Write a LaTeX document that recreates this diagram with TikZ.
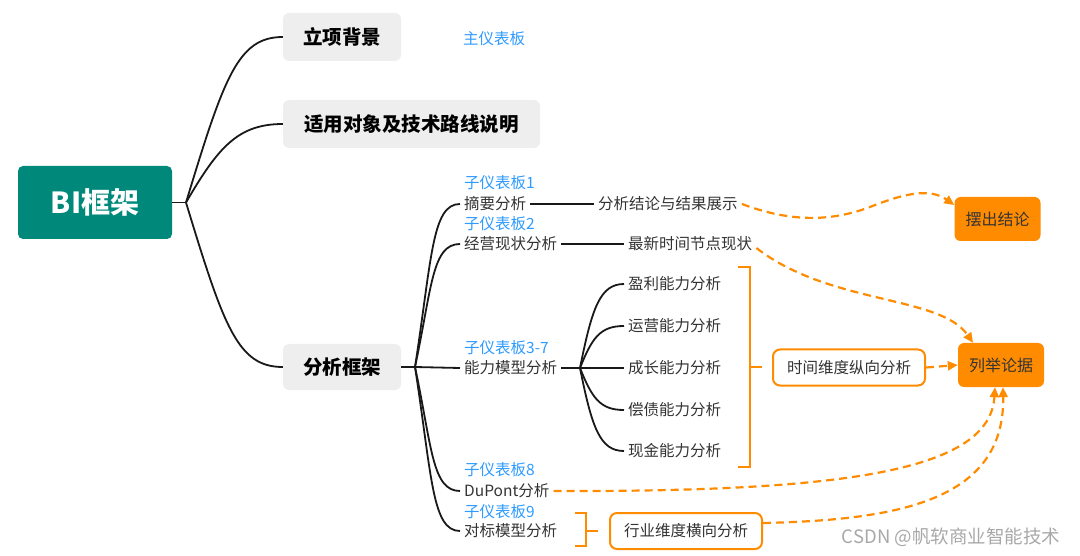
\documentclass[tikz,border=0pt]{standalone}
\usepackage{fontspec}
\setmainfont{Noto Sans CJK SC}
\usetikzlibrary{arrows.meta}
\definecolor{bigreen}{HTML}{00897B}
\definecolor{boxgray}{HTML}{EEEEEE}
\definecolor{tagblue}{HTML}{2E9BFF}
\definecolor{hintorange}{HTML}{FF8C00}
\definecolor{inkgray}{HTML}{333333}
\definecolor{markgray}{HTML}{A8A8A8}
\begin{document}
\begin{tikzpicture}[x=1pt,y=-1pt,
    root/.style={fill=bigreen,rounded corners=5pt,text=white,font=\fontsize{29}{32}\selectfont\bfseries,minimum width=154pt,minimum height=73pt},
    topic/.style={fill=boxgray,rounded corners=6pt,text=black,font=\fontsize{19.5}{22}\selectfont\bfseries,minimum height=48pt,inner xsep=20pt},
    item/.style={text=inkgray,font=\fontsize{15.5}{17}\selectfont,inner xsep=4pt,inner ysep=1pt,anchor=west},
    tag/.style={text=tagblue,font=\fontsize{15.5}{17}\selectfont,inner xsep=4pt,inner ysep=1pt,anchor=west},
    hint/.style={draw=hintorange,line width=2pt,fill=white,rounded corners=7pt,text=inkgray,font=\fontsize{15.5}{17}\selectfont,minimum width=152pt,minimum height=36pt},
    goal/.style={fill=hintorange,rounded corners=6pt,text=inkgray,font=\fontsize{16}{18}\selectfont,minimum width=86pt,minimum height=44pt},
    twig/.style={draw=black!90,line width=1.8pt},
    brace/.style={draw=hintorange,line width=2pt},
    lead/.style={draw=hintorange,line width=2.2pt,dash pattern=on 8pt off 5pt,-{Triangle[length=10pt,width=9pt]}}]
\useasboundingbox (0,0) rectangle (1080,556);

\node[root] (bi) at (95,202.5) {BI框架};
\node[topic,minimum width=118pt] (bg) at (342,37) {立项背景};
\node[topic,minimum width=257pt] (ob) at (411.5,124) {适用对象及技术路线说明};
\node[topic,minimum width=118pt,minimum height=46pt] (fw) at (342,367) {分析框架};
\node[tag] (main) at (459,39) {主仪表板};

\coordinate (j0) at (186,202.5);
\draw[twig] (bi.east) -- (j0);
\draw[twig] (j0) .. controls +(38,-125) and +(-45,0) .. (bg.west);
\draw[twig] (j0) .. controls +(32,-55) and +(-45,0) .. (ob.west);
\draw[twig] (j0) .. controls +(38,125) and +(-45,0) .. (fw.west);

\node[item] (zy) at (460,204) {摘要分析};
\node[tag] at (460,183) {子仪表板1};
\node[item] (jy) at (460,244) {经营现状分析};
\node[tag] at (460,224) {子仪表板2};
\node[item] (nl) at (460,368) {能力模型分析};
\node[tag] at (460,348) {子仪表板3-7};
\node[item] (dp) at (460,491) {DuPont分析};
\node[tag] at (460,470) {子仪表板8};
\node[item] (db) at (460,531) {对标模型分析};
\node[tag] at (460,512) {子仪表板9};

\coordinate (j1) at (415,367);
\draw[twig] (fw.east) -- (j1);
\draw[twig] (j1) .. controls +(17,-110) and +(-28,0) .. (zy.west);
\draw[twig] (j1) .. controls +(17,-80) and +(-28,0) .. (jy.west);
\draw[twig] (j1) -- (nl.west);
\draw[twig] (j1) .. controls +(17,80) and +(-28,0) .. (dp.west);
\draw[twig] (j1) .. controls +(17,110) and +(-28,0) .. (db.west);

\node[item] (jl) at (594,204) {分析结论与结果展示};
\node[item] (zx) at (624,244) {最新时间节点现状};
\draw[twig] (zy.east) -- (jl.west);
\draw[twig] (jy.east) -- (zx.west);

\node[item] (yl) at (624,284) {盈利能力分析};
\node[item] (yy) at (624,326) {运营能力分析};
\node[item] (cz) at (624,368) {成长能力分析};
\node[item] (cf) at (624,410) {偿债能力分析};
\node[item] (xj) at (624,451) {现金能力分析};
\coordinate (j2) at (580,368);
\draw[twig] (nl.east) -- (j2);
\draw[twig] (j2) .. controls +(12,-60) and +(-24,0) .. (yl.west);
\draw[twig] (j2) .. controls +(12,-30) and +(-24,0) .. (yy.west);
\draw[twig] (j2) -- (cz.west);
\draw[twig] (j2) .. controls +(12,30) and +(-24,0) .. (cf.west);
\draw[twig] (j2) .. controls +(12,60) and +(-24,0) .. (xj.west);

\draw[brace] (738,267) -- (750,267) -- (750,467) -- (738,467);
\draw[brace] (750,367) -- (762,367);
\draw[brace] (575,513) -- (586,513) -- (586,546) -- (575,546);
\draw[brace] (586,531) -- (598,531);

\node[hint] (sj) at (849,367.5) {时间维度纵向分析};
\node[hint] (hy) at (686,531) {行业维度横向分析};
\node[goal] (bc) at (997.5,219) {摆出结论};
\node[goal] (lj) at (1001,365) {列举论据};

\draw[lead] (jl.east) .. controls (790,222) and (830,222) .. (870,207)
    .. controls (905,193) and (930,188) .. ([yshift=14pt]bc.west);
\draw[lead] ([yshift=-4pt]zx.east) .. controls (830,305) and (940,295) .. ([xshift=-28pt]lj.north);
\draw[lead] (sj.east) -- (lj.west);
\draw[lead] (dp.east) .. controls (850,492) and (990,470) .. ([xshift=-6pt]lj.south);
\draw[lead] ([yshift=8pt]hy.east) .. controls (900,520) and (1005,500) .. ([xshift=2pt]lj.south);

\node[text=markgray,font=\fontsize{18.5}{20}\selectfont] (csdn) at (951,537) {CSDN @帆软商业智能技术};
\end{tikzpicture}
\end{document}
